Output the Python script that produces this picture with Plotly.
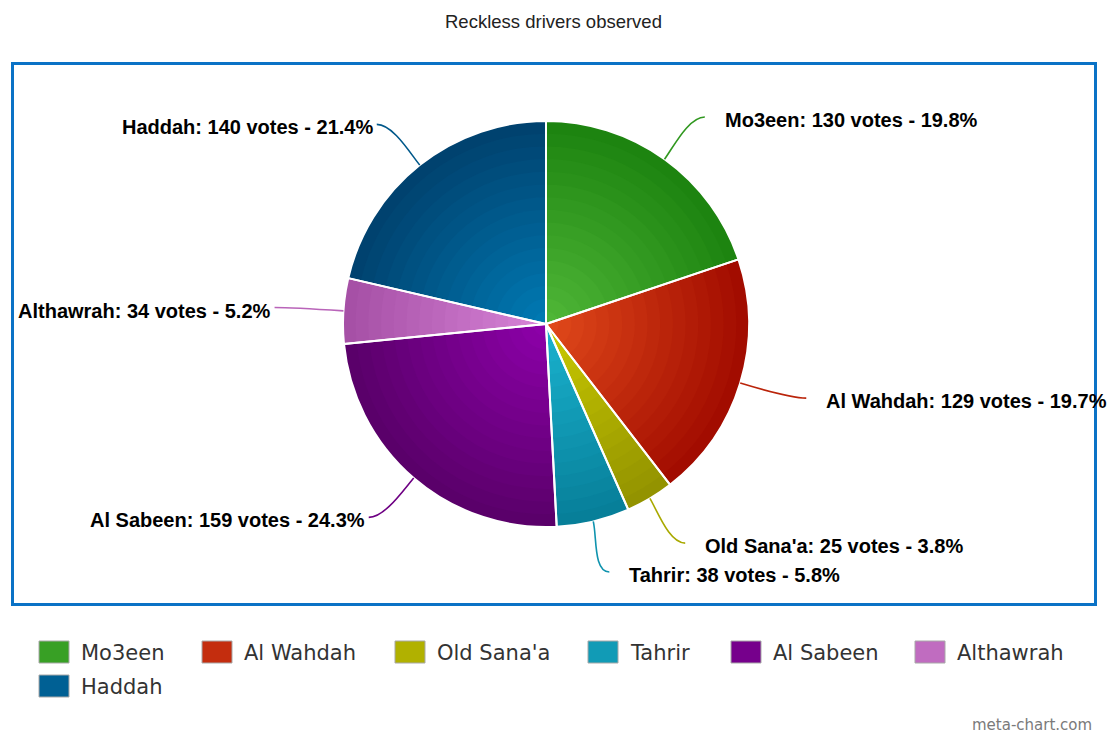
import math
import plotly.graph_objects as go

# ---------------- data ----------------
categories = ["Mo3een", "Al Wahdah", "Old Sana'a", "Tahrir", "Al Sabeen", "Althawrah", "Haddah"]
votes = [130, 129, 25, 38, 159, 34, 140]
title_text = "Reckless drivers observed"
credit_text = "meta-chart.com"

# ---------------- styles ----------------
center_colors = ["#4fb637", "#df481a", "#c9c900", "#1ab2ce", "#8c00a8", "#d682d6", "#0079b2"]
edge_colors = ["#1d8410", "#a20c00", "#939300", "#077f99", "#5a006a", "#a650a6", "#00426f"]

W, H = 1109, 735
CX, CY, R = 546, 324, 203
LABEL_RY, LABEL_RX = 255, 272
LEGEND_X = [39, 202, 395, 588, 731, 915, 39]
LEGEND_ROW = [0, 0, 0, 0, 0, 0, 1]
N_RINGS = 16


def px(x):
    return x / W


def py(y):
    return 1 - y / H


def hex2rgb(h):
    h = h.lstrip("#")
    return [int(h[i:i + 2], 16) for i in (0, 2, 4)]


def blend(c1, c2, t):
    a, b = hex2rgb(c1), hex2rgb(c2)
    return "rgb({},{},{})".format(*[round(a[i] + (b[i] - a[i]) * t) for i in range(3)])


fig = go.Figure()

# concentric pies to imitate the radial gradient (edge dark -> centre light)
for k in range(N_RINGS):
    rk = R * (1 - k / N_RINGS)
    t = k / (N_RINGS - 1)
    cols = [blend(e, c, t) for e, c in zip(edge_colors, center_colors)]
    fig.add_trace(go.Pie(
        labels=categories, values=votes, sort=False, direction="clockwise", rotation=0,
        marker=dict(colors=cols, line=dict(width=0)),
        textinfo="none", hoverinfo="skip", showlegend=False,
        domain=dict(x=[px(CX - rk), px(CX + rk)], y=[py(CY + rk), py(CY - rk)]),
    ))

# top pie: transparent fill, white slice borders, hover info
fig.add_trace(go.Pie(
    labels=categories, values=votes, sort=False, direction="clockwise", rotation=0,
    marker=dict(colors=["rgba(0,0,0,0)"] * len(votes), line=dict(color="white", width=2)),
    textinfo="none", showlegend=False,
    hovertemplate="%{label}: %{value} votes - %{percent}<extra></extra>",
    domain=dict(x=[px(CX - R), px(CX + R)], y=[py(CY + R), py(CY - R)]),
))

shapes = []
annotations = []

# data labels with curved connectors
total = sum(votes)
cum = 0
for name, v, ce, ed in zip(categories, votes, center_colors, edge_colors):
    mid = (cum + v / 2) / total * 2 * math.pi
    cum += v
    s, c = math.sin(mid), math.cos(mid)
    side = 1 if s >= 0 else -1
    ex, ey = CX + R * s, CY - R * c
    lx, ly = CX + LABEL_RX * s, CY - LABEL_RY * c
    c1x, c1y = ex + 16 * s, ey - 16 * c
    c2x, c2y = lx - side * 16, ly
    path = "M {} {} C {} {}, {} {}, {} {}".format(
        px(ex), py(ey), px(c1x), py(c1y), px(c2x), py(c2y), px(lx), py(ly))
    shapes.append(dict(type="path", xref="paper", yref="paper", path=path,
                       line=dict(color=blend(ed, ce, 0.4), width=1.6)))
    pct = 100 * v / total
    annotations.append(dict(
        xref="paper", yref="paper",
        x=px(lx + (18 if side > 0 else -2)), y=py(ly + 3),
        xanchor="left" if side > 0 else "right", yanchor="middle",
        text=f"{name}: {v} votes - {pct:.1f}%", showarrow=False,
        font=dict(family="Liberation Sans, Arial, sans-serif", size=20, color="#000000", weight="bold"),
    ))

# plot border
shapes.append(dict(type="rect", xref="paper", yref="paper",
                   x0=px(12.5), x1=px(1095.5), y0=py(604.5), y1=py(63.5),
                   line=dict(color="#0a72c6", width=3), fillcolor="rgba(0,0,0,0)"))

# manual legend
for name, ce, ed, lxp, row in zip(categories, center_colors, edge_colors, LEGEND_X, LEGEND_ROW):
    yc = 652 + row * 34
    shapes.append(dict(type="rect", xref="paper", yref="paper",
                       x0=px(lxp), x1=px(lxp + 30), y0=py(yc + 11), y1=py(yc - 11),
                       fillcolor=blend(ed, ce, 0.55), line=dict(color="#a8a8a8", width=1)))
    annotations.append(dict(
        xref="paper", yref="paper", x=px(lxp + 40), y=py(yc + 1),
        xanchor="left", yanchor="middle", text=name, showarrow=False,
        font=dict(family="DejaVu Sans, sans-serif", size=21, color="#333333"),
    ))

# title and credit
annotations.append(dict(
    xref="paper", yref="paper", x=px(553), y=py(22), xanchor="center", yanchor="middle",
    text=title_text, showarrow=False,
    font=dict(family="Liberation Sans, Arial, sans-serif", size=18.5, color="#222222"),
))
annotations.append(dict(
    xref="paper", yref="paper", x=px(1094), y=py(725), xanchor="right", yanchor="middle",
    text=credit_text, showarrow=False,
    font=dict(family="DejaVu Sans, sans-serif", size=15, color="#7a7a7a"),
))

fig.update_layout(
    width=W, height=H,
    margin=dict(l=0, r=0, t=0, b=0),
    paper_bgcolor="white", plot_bgcolor="white",
    showlegend=False,
    shapes=shapes, annotations=annotations,
)

fig.write_html("out.html")
